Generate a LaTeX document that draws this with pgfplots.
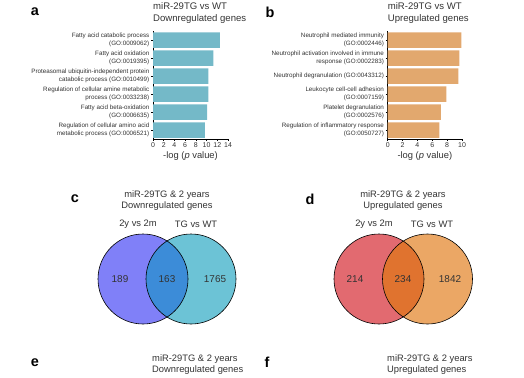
\documentclass[border=0pt]{standalone}
\usepackage{pgfplots}
\pgfplotsset{compat=1.18}
\usepackage{fontspec}
\setmainfont{Liberation Sans}

\definecolor{barA}{HTML}{74B9C8}
\definecolor{barB}{HTML}{E2A86E}
\definecolor{cL}{HTML}{8080F8}
\definecolor{cR}{HTML}{6CC3D6}
\definecolor{cO}{HTML}{3C8CD8}
\definecolor{dL}{HTML}{E26A70}
\definecolor{dR}{HTML}{EBA765}
\definecolor{dO}{HTML}{E0732F}
\definecolor{txt}{HTML}{333333}

\pgfplotsset{
  barpanel/.style={
    xbar, scale only axis, height=108bp,
    ymin=-0.5, ymax=5.5, bar width=15.5bp,
    axis x line*=bottom, axis y line*=left,
    axis line style={black, line width=0.6pt},
    tick style={black, line width=0.5pt},
    tick align=outside, major tick length=2bp,
    ytick={0,...,5},
    /pgf/number format/assume math mode=true,
    xticklabel style={font=\fontsize{7}{8}\selectfont, color=txt, inner sep=1.5bp},
    yticklabel style={font=\fontsize{6.3}{8}\selectfont, align=right, color=txt, inner sep=1.5bp},
    xlabel={-log (\textit{p} value)},
    xlabel style={font=\fontsize{9.4}{11}\selectfont, color=txt, at={(axis description cs:0.5,0)}, anchor=center, yshift=-17bp},
    clip=false,
  }
}

\begin{document}
\begin{tikzpicture}
\useasboundingbox (0bp,0bp) rectangle (524bp,-378bp);

% Panel a
\begin{axis}[barpanel, at={(153bp,-139bp)}, anchor=south west,
  width=75bp, xmin=0, xmax=14, xtick={0,2,...,14},
  yticklabels={
    {Regulation of cellular amino acid\\metabolic process (GO:0006521)},
    {Fatty acid beta-oxidation\\(GO:0006635)},
    {Regulation of cellular amine metabolic\\process (GO:0033238)},
    {Proteasomal ubiquitin-independent protein\\catabolic process (GO:0010499)},
    {Fatty acid oxidation\\(GO:0019395)},
    {Fatty acid catabolic process\\(GO:0009062)}
  }]
\addplot[fill=barA, draw=none] coordinates {
  (9.70,0) (10.08,1) (10.33,2) (10.33,3) (11.26,4) (12.50,5)};
\end{axis}

% Panel b
\begin{axis}[barpanel, at={(387.7bp,-139bp)}, anchor=south west,
  width=74.3bp, xmin=0, xmax=10, xtick={0,2,...,10},
  yticklabels={
    {Regulation of inflammatory response\\(GO:0050727)},
    {Platelet degranulation\\(GO:0002576)},
    {Leukocyte cell-cell adhesion\\(GO:0007159)},
    {Neutrophil degranulation (GO:0043312)},
    {Neutrophil activation involved in immune\\response (GO:0002283)},
    {Neutrophil mediated immunity\\(GO:0002446)}
  }]
\addplot[fill=barB, draw=none] coordinates {
  (6.95,0) (7.17,1) (7.90,2) (9.50,3) (9.64,4) (9.90,5)};
\end{axis}

% Overlay: titles, letters, Venn diagrams
\begin{axis}[at={(0bp,0bp)}, anchor=north west, scale only axis,
  width=524bp, height=378bp, xmin=0, xmax=524, ymin=0, ymax=378,
  y dir=reverse, hide axis, clip=false]
  % panel letters
  \node[font=\fontsize{14.5}{16}\selectfont\bfseries] at (axis cs:35,12) {a};
  \node[font=\fontsize{14.5}{16}\selectfont\bfseries] at (axis cs:270,12) {b};
  \node[font=\fontsize{14.5}{16}\selectfont\bfseries] at (axis cs:75,199) {c};
  \node[font=\fontsize{14.5}{16}\selectfont\bfseries] at (axis cs:310,199) {d};
  \node[font=\fontsize{14.5}{16}\selectfont\bfseries] at (axis cs:35,363) {e};
  \node[font=\fontsize{14.5}{16}\selectfont\bfseries] at (axis cs:267,362) {f};
  % titles
  \node[font=\fontsize{9.6}{11.7}\selectfont, align=left, anchor=west, inner sep=0pt, color=txt] at (axis cs:153,13) {miR-29TG vs WT\\Downregulated genes};
  \node[font=\fontsize{9.6}{11.7}\selectfont, align=left, anchor=west, inner sep=0pt, color=txt] at (axis cs:387.7,13) {miR-29TG vs WT\\Upregulated genes};
  \node[font=\fontsize{9.4}{11}\selectfont, align=center, inner sep=0pt, color=txt] at (axis cs:167,200.5) {miR-29TG \& 2 years\\Downregulated genes};
  \node[font=\fontsize{9.4}{11}\selectfont, align=center, inner sep=0pt, color=txt] at (axis cs:403,200.5) {miR-29TG \& 2 years\\Upregulated genes};
  \node[font=\fontsize{9.4}{11}\selectfont, align=left, anchor=west, inner sep=0pt, color=txt] at (axis cs:152,365) {miR-29TG \& 2 years\\Downregulated genes};
  \node[font=\fontsize{9.4}{11}\selectfont, align=left, anchor=west, inner sep=0pt, color=txt] at (axis cs:387,365) {miR-29TG \& 2 years\\Upregulated genes};
  % set labels
  \node[font=\fontsize{9.4}{11}\selectfont, color=txt] at (axis cs:138,224) {2y vs 2m};
  \node[font=\fontsize{9.4}{11}\selectfont, color=txt] at (axis cs:196,224) {TG vs WT};
  \node[font=\fontsize{9.4}{11}\selectfont, color=txt] at (axis cs:374,224) {2y vs 2m};
  \node[font=\fontsize{9.4}{11}\selectfont, color=txt] at (axis cs:432,224) {TG vs WT};
  % Venn c
  \fill[cL] (axis cs:143,279) circle[radius=45bp];
  \fill[cR] (axis cs:191,279) circle[radius=45bp];
  \begin{scope}
    \clip (axis cs:143,279) circle[radius=45bp];
    \fill[cO] (axis cs:191,279) circle[radius=45bp];
  \end{scope}
  \draw[black, line width=0.6pt] (axis cs:143,279) circle[radius=45bp];
  \draw[black, line width=0.6pt] (axis cs:191,279) circle[radius=45bp];
  \node[font=\fontsize{10}{12}\selectfont, color=txt] at (axis cs:120,279) {189};
  \node[font=\fontsize{10}{12}\selectfont, color=txt] at (axis cs:167,279) {163};
  \node[font=\fontsize{10}{12}\selectfont, color=txt] at (axis cs:215,279) {1765};
  % Venn d
  \fill[dL] (axis cs:379,279) circle[radius=45bp];
  \fill[dR] (axis cs:427.5,279) circle[radius=45bp];
  \begin{scope}
    \clip (axis cs:379,279) circle[radius=45bp];
    \fill[dO] (axis cs:427.5,279) circle[radius=45bp];
  \end{scope}
  \draw[black, line width=0.6pt] (axis cs:379,279) circle[radius=45bp];
  \draw[black, line width=0.6pt] (axis cs:427.5,279) circle[radius=45bp];
  \node[font=\fontsize{10}{12}\selectfont, color=txt] at (axis cs:355,279) {214};
  \node[font=\fontsize{10}{12}\selectfont, color=txt] at (axis cs:403,279) {234};
  \node[font=\fontsize{10}{12}\selectfont, color=txt] at (axis cs:450,279) {1842};
\end{axis}
\end{tikzpicture}
\end{document}
